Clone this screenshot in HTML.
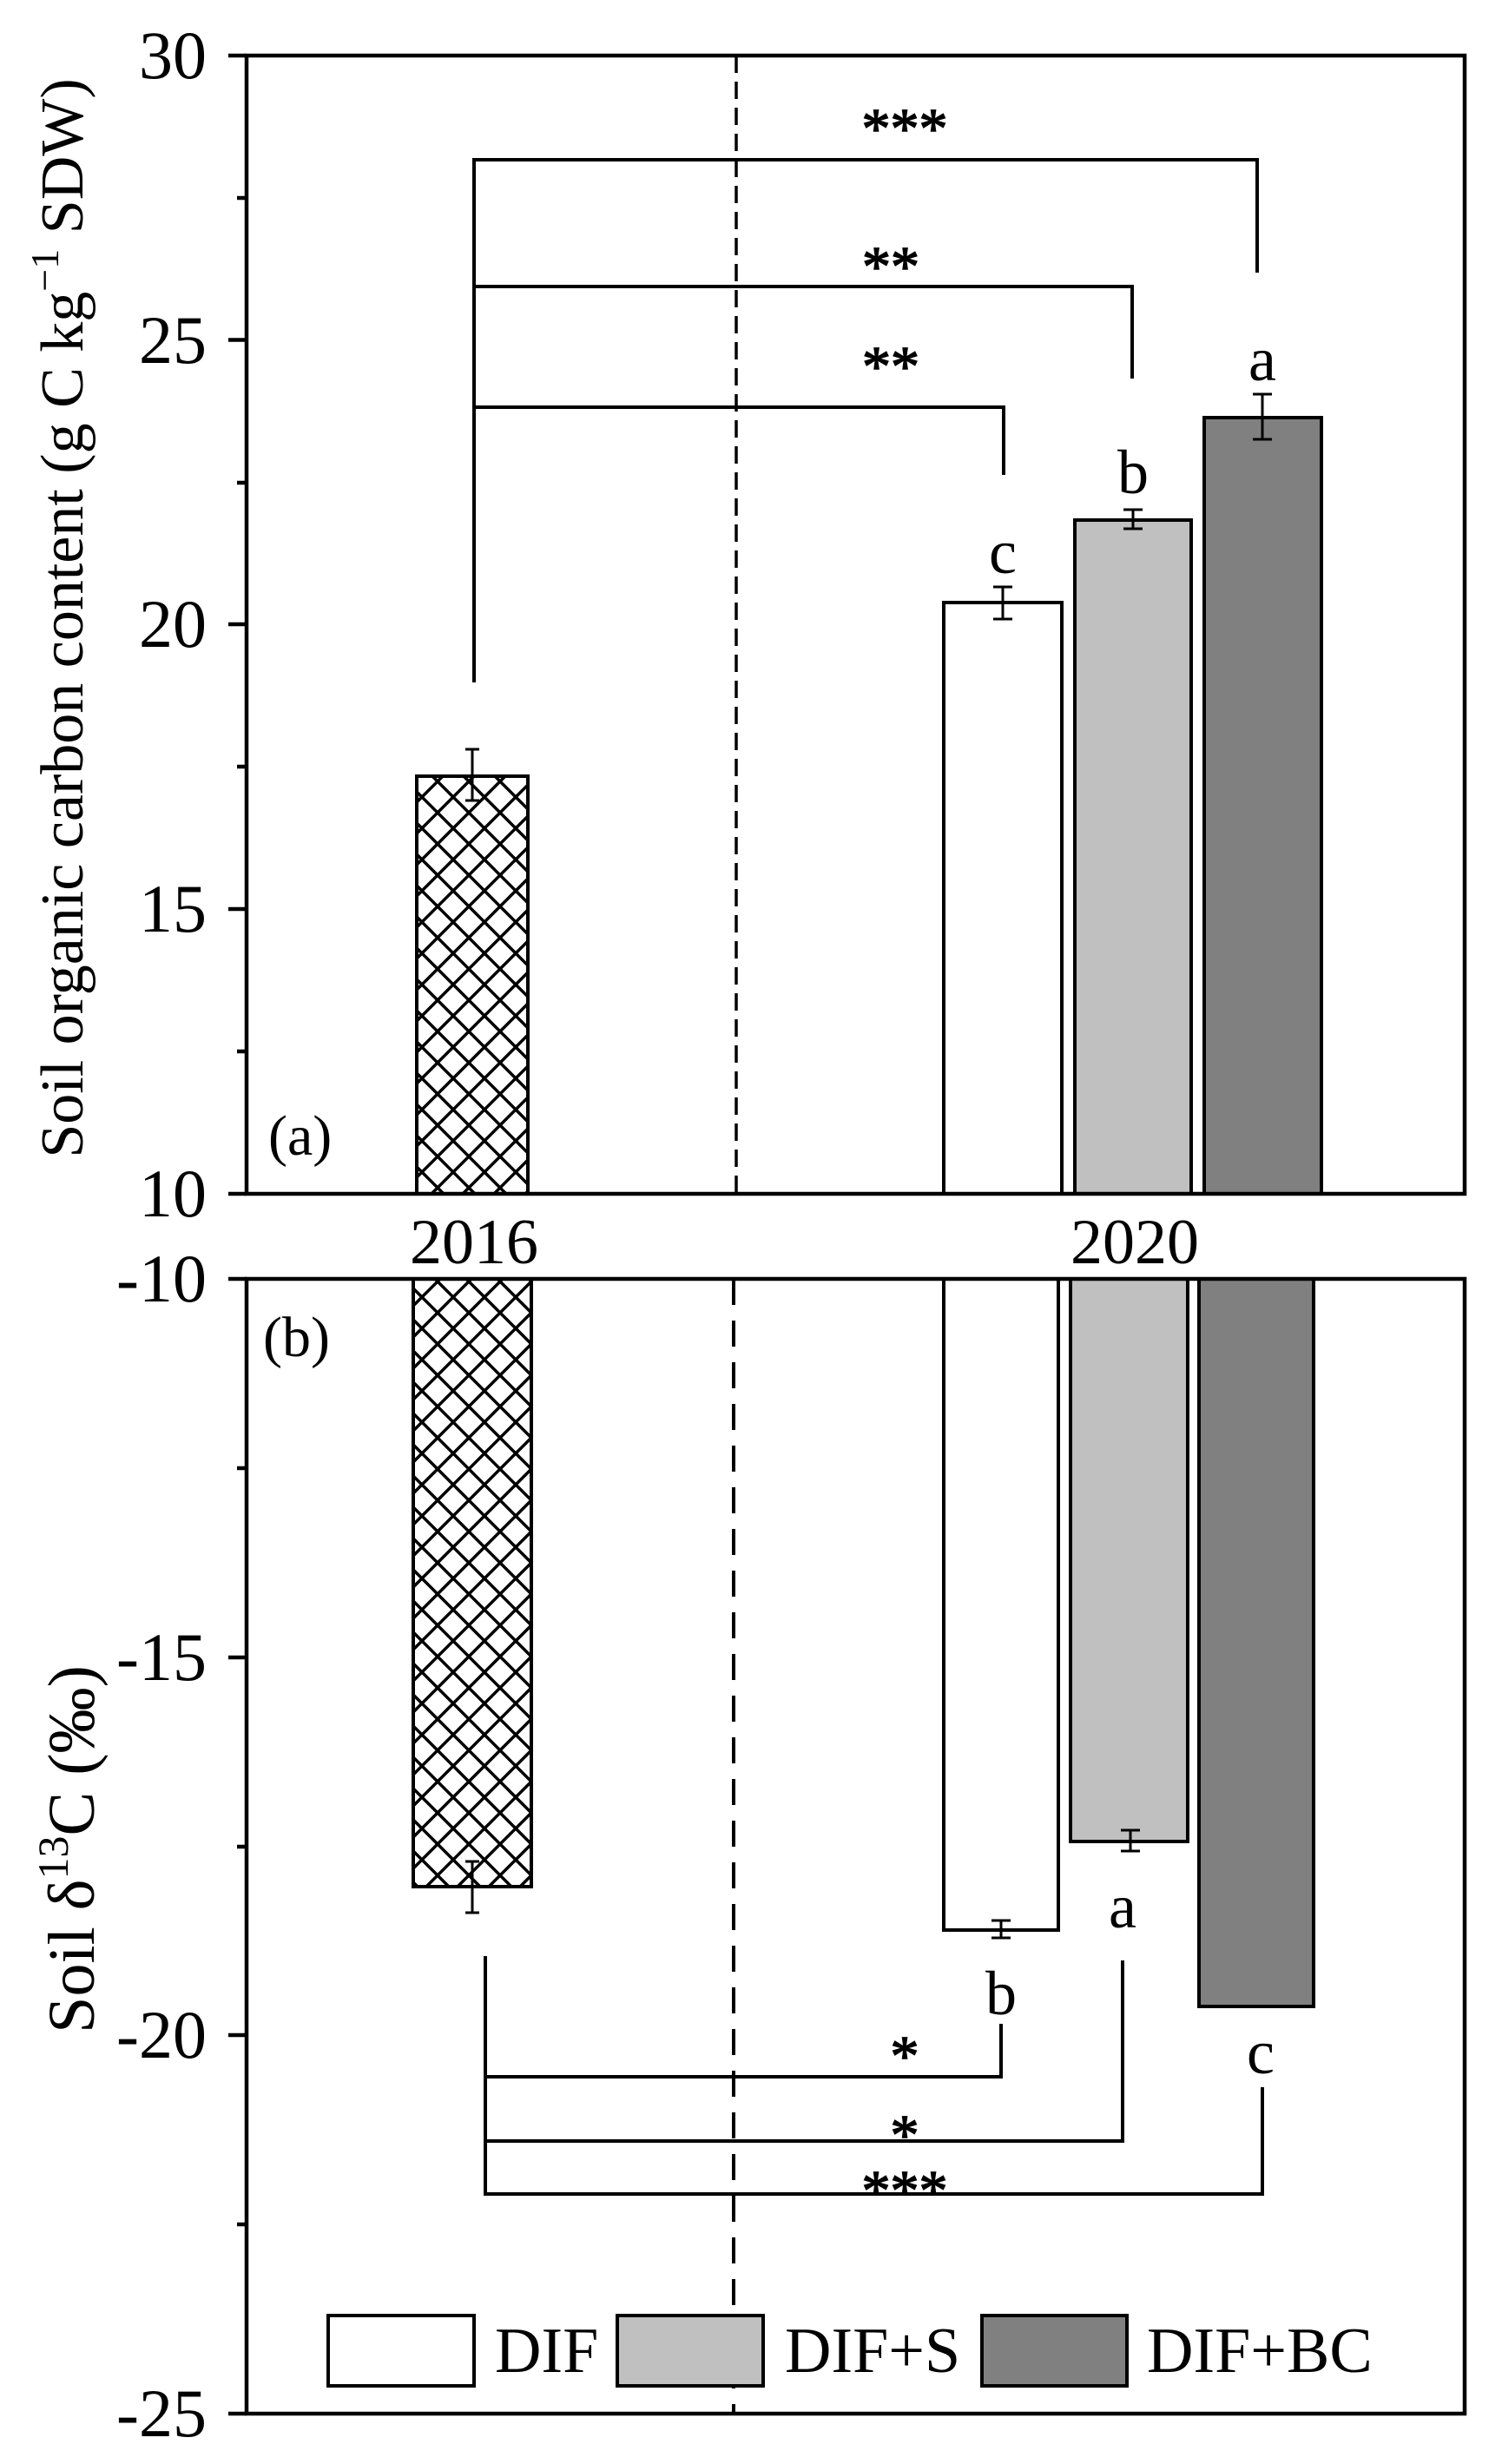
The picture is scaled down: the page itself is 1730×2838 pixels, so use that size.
<!DOCTYPE html>
<html><head><meta charset="utf-8"><style>html,body{margin:0;padding:0;background:#fff}svg{display:block}</style></head><body>
<svg width="1730" height="2838" viewBox="0 0 1730 2838" xmlns="http://www.w3.org/2000/svg" style="font-family:'Liberation Serif',serif" fill="#000">
<defs>
<pattern id="h" width="36" height="36" patternUnits="userSpaceOnUse">
<path d="M-9,-9 L45,45 M-9,27 L9,45 M27,-9 L45,9 M45,-9 L-9,45 M9,-9 L-9,9 M45,27 L27,45" stroke="#000" stroke-width="3.5"/>
</pattern>
</defs>
<!-- Panel a -->
<line x1="848" y1="64" x2="848" y2="1375" stroke="#000" stroke-width="3.5" stroke-dasharray="20,10"/>
<rect x="480" y="894" width="128" height="481" fill="url(#h)" stroke="#000" stroke-width="4"/>
<rect x="1087" y="694" width="136" height="681" fill="#fff" stroke="#000" stroke-width="4"/>
<rect x="1238" y="599" width="134" height="776" fill="#c0c0c0" stroke="#000" stroke-width="4"/>
<rect x="1387" y="481" width="135" height="894" fill="#808080" stroke="#000" stroke-width="4"/>
<g stroke="#000" stroke-width="3" fill="none">
<path d="M544,863V922M536,863H552M536,922H552"/>
<path d="M1155,676V713M1144,676H1166M1144,713H1166"/>
<path d="M1305,587V609M1294,587H1316M1294,609H1316"/>
<path d="M1454,454V506M1443,454H1465M1443,506H1465"/>
</g>
<g stroke="#000" stroke-width="4" fill="none">
<path d="M546,786V184H1448V314"/>
<path d="M546,330H1304V436"/>
<path d="M546,469H1156V547"/>
</g>
<g font-size="66" text-anchor="middle" stroke="#000" stroke-width="1.5">
<text x="1042" y="170">***</text>
<text x="1026" y="329">**</text>
<text x="1026" y="444">**</text>
</g>
<g font-size="72" text-anchor="middle">
<text x="1155" y="660">c</text>
<text x="1305" y="568">b</text>
<text x="1454" y="438">a</text>
</g>
<text x="309" y="1330" font-size="66">(a)</text>
<rect x="284" y="64" width="1403" height="1311" fill="none" stroke="#000" stroke-width="4.5"/>
<g stroke="#000" stroke-width="4.5">
<path d="M263,64H284M263,391.5H284M263,719H284M263,1047H284M263,1375H284"/>
<path d="M273,228H284M273,556H284M273,883H284M273,1211H284"/>
</g>
<g font-size="78" text-anchor="end">
<text x="238" y="90">30</text>
<text x="238" y="418">25</text>
<text x="238" y="745">20</text>
<text x="238" y="1073">15</text>
<text x="238" y="1401">10</text>
</g>
<text transform="translate(95,712) rotate(-90)" font-size="70" text-anchor="middle">Soil organic carbon content (g C kg<tspan dy="-28" font-size="46">−1</tspan><tspan dy="28"> SDW)</tspan></text>
<g font-size="74" text-anchor="middle">
<text x="546" y="1455">2016</text>
<text x="1307" y="1455">2020</text>
</g>
<!-- Panel b -->
<line x1="845" y1="1473" x2="845" y2="2780" stroke="#000" stroke-width="4" stroke-dasharray="30,18"/>
<rect x="476" y="1473" width="136" height="700" fill="url(#h)" stroke="#000" stroke-width="4"/>
<rect x="1087" y="1473" width="132" height="750" fill="#fff" stroke="#000" stroke-width="4"/>
<rect x="1233" y="1473" width="135" height="648" fill="#c0c0c0" stroke="#000" stroke-width="4"/>
<rect x="1381" y="1473" width="132" height="838" fill="#808080" stroke="#000" stroke-width="4"/>
<g stroke="#000" stroke-width="3" fill="none">
<path d="M544,2144V2203M536,2144H552M536,2203H552"/>
<path d="M1153,2212V2232M1142,2212H1164M1142,2232H1164"/>
<path d="M1302,2108V2132M1291,2108H1313M1291,2132H1313"/>
<path d="M1438,2311H1460"/>
</g>
<g stroke="#000" stroke-width="4" fill="none">
<path d="M559,2253V2527H1454V2404"/>
<path d="M559,2392H1153V2331"/>
<path d="M559,2466H1293V2258"/>
</g>
<g font-size="66" text-anchor="middle" stroke="#000" stroke-width="1.5">
<text x="1042" y="2390">*</text>
<text x="1042" y="2481">*</text>
<text x="1042" y="2545">***</text>
</g>
<g font-size="72" text-anchor="middle">
<text x="1293" y="2220">a</text>
<text x="1153" y="2320">b</text>
<text x="1452" y="2388">c</text>
</g>
<text x="303" y="1562" font-size="66">(b)</text>
<rect x="284" y="1473" width="1403" height="1307" fill="none" stroke="#000" stroke-width="4.5"/>
<g stroke="#000" stroke-width="4.5">
<path d="M263,1473H284M263,1909H284M263,2344H284M263,2780H284"/>
<path d="M273,1691H284M273,2127H284M273,2562H284"/>
</g>
<g font-size="78" text-anchor="end">
<text x="238" y="1499">-10</text>
<text x="238" y="1935">-15</text>
<text x="238" y="2370">-20</text>
<text x="238" y="2806">-25</text>
</g>
<text transform="translate(108,2130) rotate(-90)" font-size="76" text-anchor="middle">Soil δ<tspan dy="-30" font-size="50">13</tspan><tspan dy="30">C (‰)</tspan></text>
<!-- legend -->
<rect x="378" y="2667" width="168" height="81" fill="#fff" stroke="#000" stroke-width="4"/>
<text x="570" y="2732" font-size="74">DIF</text>
<rect x="711" y="2667" width="168" height="81" fill="#c0c0c0" stroke="#000" stroke-width="4"/>
<text x="904" y="2732" font-size="74">DIF+S</text>
<rect x="1131" y="2667" width="167" height="81" fill="#808080" stroke="#000" stroke-width="4"/>
<text x="1321" y="2732" font-size="74">DIF+BC</text>
</svg>
</body></html>
